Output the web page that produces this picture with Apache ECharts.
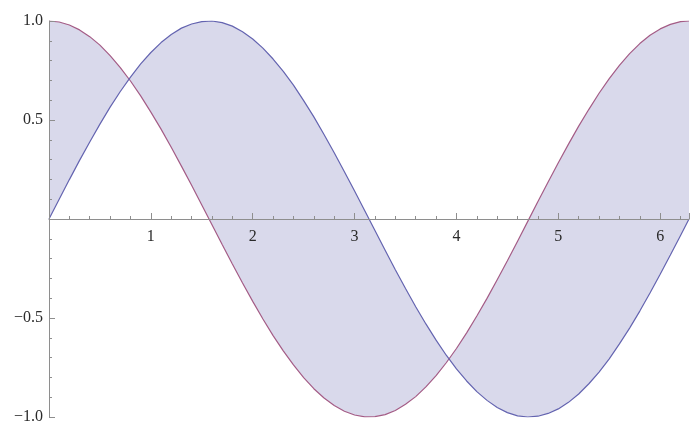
<!DOCTYPE html>
<html>
<head>
<meta charset="utf-8">
<script src="https://cdn.jsdelivr.net/npm/echarts@6/dist/echarts.min.js"></script>
<style>
  html, body { margin: 0; padding: 0; background: #fff; }
  #chart { width: 696px; height: 426px; }
</style>
</head>
<body>
<div id="chart"></div>
<script>
// Sample positions along x (0 .. 2π)
const xs = [0, 0.1, 0.2, 0.3, 0.4, 0.5, 0.6, 0.7, 0.8, 0.9,
  1.0, 1.1, 1.2, 1.3, 1.4, 1.5, 1.6, 1.7, 1.8, 1.9,
  2.0, 2.1, 2.2, 2.3, 2.4, 2.5, 2.6, 2.7, 2.8, 2.9,
  3.0, 3.1, 3.2, 3.3, 3.4, 3.5, 3.6, 3.7, 3.8, 3.9,
  4.0, 4.1, 4.2, 4.3, 4.4, 4.5, 4.6, 4.7, 4.8, 4.9,
  5.0, 5.1, 5.2, 5.3, 5.4, 5.5, 5.6, 5.7, 5.8, 5.9,
  6.0, 6.1, 6.2, 6.283];

// Blue curve (rises from 0)
const sinVals = [0, 0.100, 0.199, 0.296, 0.389, 0.479, 0.565, 0.644, 0.717, 0.783,
  0.841, 0.891, 0.932, 0.964, 0.985, 0.997, 1.000, 0.992, 0.974, 0.946,
  0.909, 0.863, 0.808, 0.746, 0.676, 0.598, 0.516, 0.427, 0.335, 0.239,
  0.141, 0.042, -0.058, -0.158, -0.256, -0.351, -0.443, -0.530, -0.612, -0.688,
  -0.757, -0.818, -0.872, -0.916, -0.952, -0.978, -0.994, -1.000, -0.996, -0.982,
  -0.959, -0.926, -0.884, -0.832, -0.773, -0.706, -0.631, -0.551, -0.465, -0.374,
  -0.279, -0.182, -0.083, 0];

// Purple curve (starts at 1)
const cosVals = [1, 0.995, 0.980, 0.955, 0.921, 0.878, 0.825, 0.765, 0.697, 0.622,
  0.540, 0.454, 0.362, 0.267, 0.170, 0.071, -0.029, -0.129, -0.227, -0.323,
  -0.416, -0.505, -0.589, -0.666, -0.737, -0.801, -0.857, -0.904, -0.942, -0.971,
  -0.990, -0.999, -0.998, -0.988, -0.967, -0.936, -0.897, -0.848, -0.791, -0.726,
  -0.654, -0.575, -0.490, -0.401, -0.307, -0.211, -0.112, -0.012, 0.088, 0.187,
  0.284, 0.378, 0.469, 0.554, 0.635, 0.709, 0.776, 0.835, 0.886, 0.928,
  0.960, 0.983, 0.997, 1];

// Tick labels on the horizontal axis (placed under the zero line)
const xTickValues = [1, 2, 3, 4, 5, 6];
const xTickLabels = ['1', '2', '3', '4', '5', '6'];
const yTickLabels = ['\u22121.0', '\u22120.5', '0.5', '1.0'];

const sinData = xs.map((x, i) => [x, sinVals[i]]);
const cosData = xs.map((x, i) => [x, cosVals[i]]);

const fontFamily = '"Liberation Serif", "Times New Roman", serif';
const labelFont = { fontFamily: fontFamily, fontSize: 16, color: '#2a2a2a' };
const axisGray = '#8e8e8e';

const chart = echarts.init(document.getElementById('chart'), null, { renderer: 'canvas' });
chart.setOption({
  animation: false,
  backgroundColor: '#ffffff',
  grid: { left: 49, right: 7, top: 21, bottom: 9, containLabel: false, outerBoundsMode: 'none' },
  xAxis: {
    type: 'value', min: 0, max: 6.283, interval: 1, z: 6,
    axisLine: { onZero: true, lineStyle: { color: axisGray, width: 1 } },
    axisTick: { inside: true, length: 6, lineStyle: { color: axisGray } },
    minorTick: { show: true, splitNumber: 5, length: 3, lineStyle: { color: axisGray } },
    splitLine: { show: false },
    axisLabel: { show: false }
  },
  yAxis: {
    type: 'value', min: -1, max: 1, interval: 0.5, z: 6,
    axisLine: { show: true, onZero: false, lineStyle: { color: axisGray, width: 1 } },
    axisTick: { inside: true, length: 6, lineStyle: { color: axisGray } },
    minorTick: { show: true, splitNumber: 5, length: 3, lineStyle: { color: axisGray } },
    splitLine: { show: false },
    axisLabel: Object.assign({}, labelFont, {
      margin: 6,
      formatter: v => {
        if (Math.abs(v) < 1e-6) return '';
        const map = { '-1': yTickLabels[0], '-0.5': yTickLabels[1], '0.5': yTickLabels[2], '1': yTickLabels[3] };
        return map[String(v)] || '';
      }
    })
  },
  series: [
    {
      // shaded band between the two curves
      type: 'custom',
      silent: true,
      z: 1,
      data: xs.map((x, i) => [x, sinVals[i], cosVals[i]]),
      renderItem: (params, api) => {
        if (params.dataIndex !== 0) return null;
        const top = sinData.map(p => api.coord(p));
        const bot = cosData.map(p => api.coord(p)).reverse();
        return {
          type: 'polygon',
          shape: { points: top.concat(bot), smooth: 0 },
          style: { fill: '#d9d9eb', stroke: null }
        };
      },
      encode: { x: 0, y: 1 }
    },
    {
      type: 'line', data: cosData, showSymbol: false, smooth: false, z: 3,
      lineStyle: { color: '#a45c86', width: 1.2 }
    },
    {
      type: 'line', data: sinData, showSymbol: false, smooth: false, z: 3,
      lineStyle: { color: '#6464b0', width: 1.2 }
    },
    {
      // numeric labels hanging under the zero line
      type: 'custom',
      silent: true,
      z: 7,
      data: xTickValues.map((v, i) => [v, 0, i]),
      encode: { x: 0, y: 1 },
      renderItem: (params, api) => {
        const pt = api.coord([api.value(0), api.value(1)]);
        return {
          type: 'text',
          x: pt[0], y: pt[1] + 10,
          style: {
            text: xTickLabels[api.value(2)],
            fontFamily: fontFamily, fontSize: 16, fill: '#2a2a2a',
            align: 'center', verticalAlign: 'top'
          }
        };
      }
    }
  ]
});
</script>
</body>
</html>
